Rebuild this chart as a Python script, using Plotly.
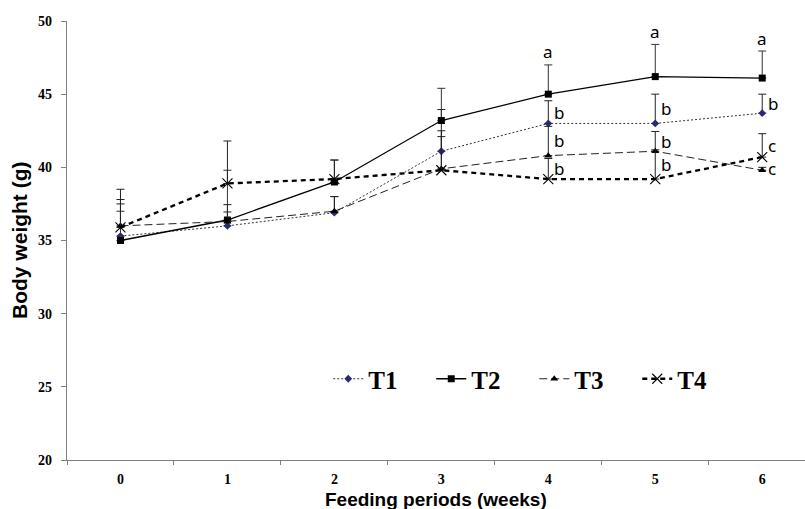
import plotly.graph_objects as go

weeks = [0, 1, 2, 3, 4, 5, 6]
week_labels = ["0", "1", "2", "3", "4", "5", "6"]

t1 = [35.3, 36.0, 36.9, 41.1, 43.0, 43.0, 43.7]
t2 = [35.0, 36.4, 39.0, 43.2, 45.0, 46.2, 46.1]
t3 = [36.0, 36.3, 37.0, 39.9, 40.8, 41.1, 39.8]
t4 = [35.9, 38.9, 39.2, 39.8, 39.2, 39.2, 40.7]

t1_err = [2.2, 0.95, 1.1, 2.85, 1.55, 2.0, 1.3]
t2_err = [2.0, 3.4, 1.5, 2.2, 2.0, 2.2, 1.85]
t3_err = [1.8, 1.15, 1.0, 2.6, 2.0, 1.35, 0.2]
t4_err = [2.6, 2.9, 1.3, 2.3, 1.4, 2.0, 1.6]

t1_letters = ["", "", "", "", "b", "b", "b"]
t2_letters = ["", "", "", "", "a", "a", "a"]
t3_letters = ["", "", "", "", "b", "b", "c"]
t4_letters = ["", "", "", "", "b", "b", "c"]

y_ticks = [20, 25, 30, 35, 40, 45, 50]

AX = "#7f7f7f"
SERIF = "Liberation Serif, Times New Roman, serif"
SANS = "Liberation Sans, Arial, sans-serif"

def eb(err, color="#222"):
    return dict(type="data", array=err, arrayminus=[0] * len(err), symmetric=False,
                color=color, thickness=1, width=4)

fig = go.Figure()
fig.add_trace(go.Scatter(
    x=weeks, y=t1, name="T1", mode="lines+markers",
    line=dict(color="#333333", width=1, dash="2px,2px"),
    marker=dict(symbol="diamond", size=6, color="#2a2a70"),
    error_y=eb(t1_err)))
fig.add_trace(go.Scatter(
    x=weeks, y=t2, name="T2", mode="lines+markers",
    line=dict(color="black", width=1.3),
    marker=dict(symbol="square", size=7, color="black"),
    error_y=eb(t2_err, "#333")))
fig.add_trace(go.Scatter(
    x=weeks, y=t3, name="T3", mode="lines+markers",
    line=dict(color="#222222", width=1, dash="8px,4px"),
    marker=dict(symbol="triangle-up", size=7, color="black"),
    error_y=eb(t3_err)))
fig.add_trace(go.Scatter(
    x=weeks, y=t4, name="T4", mode="lines+markers",
    line=dict(color="black", width=2.3, dash="5px,4px"),
    marker=dict(symbol="x-thin", size=10, color="black",
                line=dict(color="black", width=1.1)),
    error_y=eb(t4_err)))

annotations = []
LF = dict(family="Noto Sans, Open Sans, sans-serif", size=17, color="black")
for i, w in enumerate(weeks):
    if t2_letters[i]:
        annotations.append(dict(x=w, y=t2[i] + t2_err[i], text=t2_letters[i],
                                showarrow=False, xanchor="center", yanchor="middle",
                                yshift=13, font=LF))
    for vals, errs, lets in ((t1, t1_err, t1_letters), (t3, t3_err, t3_letters),
                             (t4, t4_err, t4_letters)):
        if lets[i]:
            annotations.append(dict(x=w, y=vals[i] + errs[i] / 2, text=lets[i],
                                    showarrow=False, xanchor="left", yanchor="middle",
                                    xshift=4, font=LF))

annotations.append(dict(x=0.5, y=-0.0911, xref="paper", yref="paper",
                        text="Feeding periods (weeks)", showarrow=False,
                        xanchor="center", yanchor="middle",
                        font=dict(family=SANS, size=19, color="black", weight="bold")))
annotations.append(dict(x=-0.0644, y=0.5, xref="paper", yref="paper",
                        text="Body weight (g)", showarrow=False, textangle=-90,
                        xanchor="center", yanchor="middle",
                        font=dict(family=SANS, size=21, color="black", weight="bold")))

fig.update_layout(
    width=805, height=509,
    margin=dict(l=67, r=0, t=21, b=49),
    paper_bgcolor="white", plot_bgcolor="white",
    showlegend=True,
    legend=dict(orientation="h", x=0.354, y=0.1845, xanchor="left", yanchor="middle",
                bgcolor="rgba(0,0,0,0)",
                font=dict(family=SERIF, size=25, color="black", weight="bold"),
                entrywidth=58, entrywidthmode="pixels", itemclick=False),
    annotations=annotations,
)
fig.update_xaxes(
    range=[-0.5, 6.4], tickmode="array", tickvals=weeks, ticktext=week_labels,
    ticks="", showgrid=False, zeroline=False,
    showline=True, linecolor=AX, linewidth=1.3,
    tickfont=dict(family=SERIF, size=14, color="black", weight="bold"),
    ticklabelstandoff=6,
    minor=dict(tickmode="linear", tick0=-0.5, dtick=1, ticks="outside", ticklen=4,
               tickcolor=AX, tickwidth=1.3, showgrid=False),
)
fig.update_yaxes(
    range=[20, 50], tickmode="array", tickvals=y_ticks, ticktext=[str(v) for v in y_ticks],
    ticks="outside", ticklen=5, tickcolor=AX, tickwidth=1.3,
    showgrid=False, zeroline=False,
    showline=True, linecolor=AX, linewidth=1.3,
    tickfont=dict(family=SERIF, size=14, color="black", weight="bold"),
    ticklabelstandoff=6,
)

fig.write_html("out.html", config={"displayModeBar": False},
               post_script="document.body.style.margin='0';document.body.style.padding='0';")
